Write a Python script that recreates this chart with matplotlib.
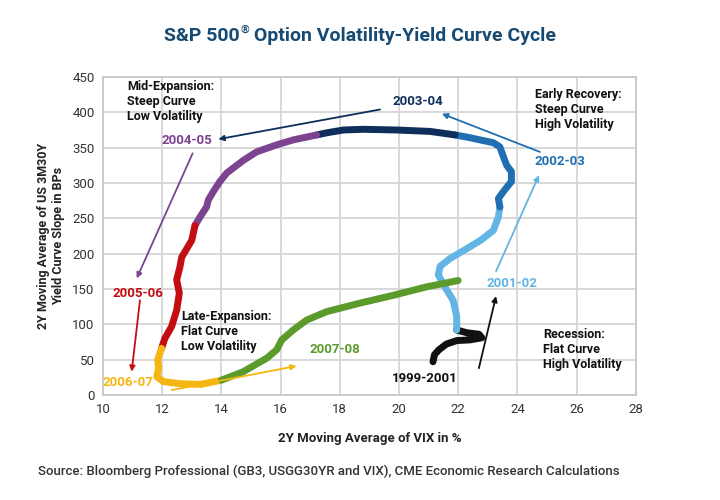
import matplotlib
matplotlib.use("Agg")
import matplotlib.pyplot as plt

plt.rcParams['font.family'] = ['Roboto', 'DejaVu Sans']

# 2Y moving average of VIX (x) and 3M30Y slope in bps (y), one piece per period
vix_9901 = [21.15, 21.2, 21.35, 21.6, 21.95, 22.4, 22.8, 22.7, 22.3, 21.95]
slope_9901 = [47, 57, 64, 72, 77, 78, 81, 86, 88, 92]

vix_0102 = [21.95, 21.95, 21.83, 21.55, 21.33, 21.39, 21.72, 22.29, 22.76, 23.19, 23.36, 23.41]
slope_0102 = [92, 111, 134, 153, 170, 182, 193, 207, 219, 233, 252, 266]

vix_0203 = [23.41, 23.36, 23.53, 23.8, 23.8, 23.64, 23.53, 23.41, 23.19, 22.74, 22.29, 21.9]
slope_0203 = [266, 278, 288, 302, 316, 325, 337, 351, 357, 361, 365, 368]

vix_0304 = [21.9, 21.05, 19.92, 18.8, 18.12, 17.56, 17.22]
slope_0304 = [368, 373, 375, 376, 375, 371, 368]

vix_0405 = [17.22, 16.43, 15.87, 15.19, 14.74, 14.18, 13.95, 13.73, 13.56, 13.5, 13.28, 13.11]
slope_0405 = [368, 361, 354, 344, 332, 314, 302, 288, 276, 266, 252, 240]

vix_0506 = [13.11, 13.0, 12.83, 12.66, 12.6, 12.49, 12.58, 12.49, 12.32, 12.09, 11.98]
slope_0506 = [240, 219, 207, 195, 181, 163, 144, 120, 97, 80, 66]

vix_0607 = [11.98, 11.85, 11.88, 11.82, 12.04, 12.6, 13.3, 14.0]
slope_0607 = [66, 50, 38, 26, 19, 16, 15, 21]

vix_0708 = [14.0, 14.74, 15.53, 15.87, 16.04, 16.43, 16.88, 17.56, 18.68, 19.8, 20.93, 22.0]
slope_0708 = [21, 33, 52, 64, 78, 92, 106, 118, 130, 141, 153, 162]

segments = [
    (vix_9901, slope_9901, "#111111"),
    (vix_0102, slope_0102, "#62b5e5"),
    (vix_0203, slope_0203, "#1f6fb2"),
    (vix_0304, slope_0304, "#0e2f5a"),
    (vix_0405, slope_0405, "#7c4390"),
    (vix_0506, slope_0506, "#c40d12"),
    (vix_0607, slope_0607, "#f6b612"),
    (vix_0708, slope_0708, "#5a9b2c"),
]

fig = plt.figure(figsize=(7.2, 5), dpi=100)
ax = fig.add_axes([0.143, 0.21, 0.74, 0.636])

for xs, ys, col in segments:
    ax.plot(xs, ys, color=col, linewidth=5, solid_capstyle="round",
            solid_joinstyle="round", zorder=3)

ax.set_xlim(10, 28)
ax.set_ylim(0, 450)
ax.set_xticks(range(10, 29, 2))
ax.set_yticks(range(0, 451, 50))
ax.grid(True, color="#d6d6d6", linewidth=1.3, zorder=0)
ax.tick_params(length=0, labelsize=9.5, colors="#333333", pad=6)
for s in ax.spines.values():
    s.set_color("#c8c8c8")
    s.set_linewidth(1.3)

ax.set_xlabel("2Y Moving Average of VIX in %", fontsize=9.5, fontweight="bold",
              color="#222222", labelpad=11)
ax.set_ylabel("2Y Moving Average of US 3M30Y\nYield Curve Slope in BPs", fontsize=9,
              fontweight="bold", color="#222222", labelpad=5)

# title in pieces so the registered sign can sit small and raised
title_col = "#174a72"
renderer = fig.canvas.get_renderer()
t1 = fig.text(0, 0.928, "S&P 500", ha="left", va="center", fontsize=14,
              fontweight="bold", color=title_col)
t2 = fig.text(0, 0.94, "\u00ae", ha="left", va="center", fontsize=8,
              fontweight="bold", color=title_col)
t3 = fig.text(0, 0.928, " Option Volatility-Yield Curve Cycle", ha="left", va="center",
              fontsize=14, fontweight="bold", color=title_col)
w1 = t1.get_window_extent(renderer).width
w2 = t2.get_window_extent(renderer).width
w3 = t3.get_window_extent(renderer).width
figw = fig.get_size_inches()[0] * fig.dpi
x0 = (figw - (w1 + w2 + w3)) / 2
t1.set_x(x0 / figw)
t2.set_x((x0 + w1 + 1) / figw)
t3.set_x((x0 + w1 + w2) / figw)

fig.text(0.053, 0.058, "Source: Bloomberg Professional (GB3, USGG30YR and VIX), CME Economic Research Calculations",
         ha="left", va="center", fontsize=9.5, fontweight="medium", color="#333333")

# phase boxes
phase_kw = dict(fontsize=9, fontweight="bold", color="#111111", ha="left", va="top",
                linespacing=1.2, zorder=5)
ax.text(10.81, 446, "Mid-Expansion:\nSteep Curve\nLow Volatility", **phase_kw)
ax.text(24.6, 434, "Early Recovery:\nSteep Curve\nHigh Volatility", **phase_kw)
ax.text(24.86, 95, "Recession:\nFlat Curve\nHigh Volatility", **phase_kw)
ax.text(12.64, 120, "Late-Expansion:\nFlat Curve\nLow Volatility", **phase_kw)

# period labels
lab_kw = dict(fontsize=9.5, fontweight="bold", ha="center", va="center", zorder=5)
ax.text(12.84, 360, "2004-05", color="#7c4390", **lab_kw)
ax.text(20.64, 415, "2003-04", color="#0e2f5a", **lab_kw)
ax.text(25.44, 330, "2002-03", color="#1f6fb2", **lab_kw)
ax.text(23.82, 158, "2001-02", color="#62b5e5", **lab_kw)
ax.text(20.88, 24, "1999-2001", color="#111111", **lab_kw)
ax.text(17.84, 64, "2007-08", color="#5a9b2c", **lab_kw)
ax.text(10.85, 18, "2006-07", color="#f6b612", clip_on=False, **lab_kw)
ax.text(11.17, 144, "2005-06", color="#c40d12", **lab_kw)

# arrows
def arrow(x0, y0, x1, y1, col):
    ax.annotate("", xy=(x1, y1), xytext=(x0, y0), zorder=4,
                arrowprops=dict(arrowstyle="-|>", color=col, lw=1.3,
                                mutation_scale=8, shrinkA=0, shrinkB=0))

arrow(19.36, 404, 13.9, 362, "#0e2f5a")
arrow(24.76, 344, 21.45, 398, "#1f6fb2")
arrow(23.28, 175, 24.73, 311, "#62b5e5")
arrow(22.7, 38, 23.28, 140, "#111111")
arrow(12.32, 7, 16.54, 41, "#f6b612")
arrow(11.25, 134, 10.97, 33, "#c40d12")
arrow(13.03, 342, 11.14, 165, "#7c4390")

fig.savefig("out.png", dpi=100)
